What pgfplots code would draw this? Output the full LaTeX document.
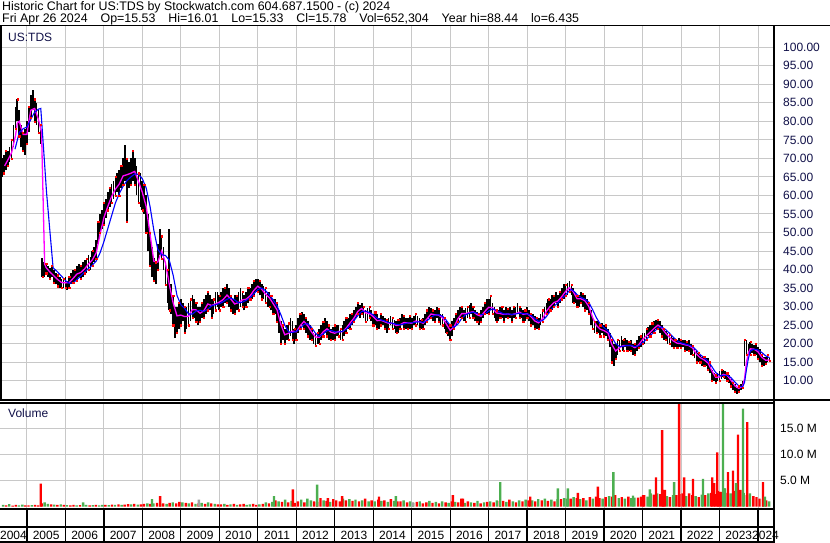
\documentclass[border=0pt]{standalone}
\usepackage{fontspec}
\setmainfont{Liberation Sans}
\usepackage{pgfplots}
\usepackage{pgfplotstable}
\pgfplotsset{compat=1.18}
\definecolor{gridc}{RGB}{200,200,200}
\definecolor{vred}{RGB}{255,0,0}
\definecolor{vgreen}{RGB}{76,175,80}
\definecolor{vgrey}{RGB}{160,160,160}
\definecolor{lblc}{RGB}{16,16,72}
\definecolor{magl}{RGB}{255,0,255}
\definecolor{bluel}{RGB}{0,0,255}
\newcommand{\tf}{\fontsize{12}{14}\selectfont}
\newcommand{\hf}{\fontsize{12.4}{14}\selectfont}
\newcommand{\gap}{\hspace{13pt}}

\pgfplotstableread{
t lo hi
2004.30 63 68
2004.35 65 70
2004.40 66 71
2004.45 67 72
2004.50 68 72
2004.55 69 73
2004.60 70 75
2004.65 73 79
2004.70 78 84
2004.75 80 86
2004.80 76 83
2004.85 73 79
2004.90 72 77
2004.95 71 78
2005.00 74 80
2005.05 77 84
2005.10 81 87
2005.15 83 88.4
2005.20 80 86
2005.25 79 85
2005.30 77 83
2005.35 74 79
2005.40 38 43
2005.45 38 42
2005.50 39 41.5
2005.55 38 41
2005.60 37.5 40.5
2005.65 38 41
2005.70 36.5 40
2005.75 36 39
2005.80 35.5 38.5
2005.85 35 38
2005.90 35 37.5
2005.95 35 37.5
2006.00 35 38
2006.05 34.5 37
2006.10 35 38
2006.15 36 39
2006.20 36.5 40
2006.25 37 40
2006.30 37 41
2006.35 38 41.5
2006.40 37.5 41
2006.45 38 42
2006.50 39 42.5
2006.55 39 43
2006.60 40 44
2006.65 40 43.5
2006.70 41 45
2006.75 42 46
2006.80 43 48
2006.85 47 53
2006.90 50 55
2006.95 51 56
2007.00 52 58
2007.05 54 59
2007.10 56 61
2007.15 57 62
2007.20 58 63
2007.25 59 64
2007.30 60 65
2007.35 61 66
2007.40 60 67
2007.45 62 68
2007.50 63 70
2007.55 64 73.5
2007.60 53 70
2007.65 62 69
2007.70 63 70
2007.75 64 72
2007.80 63 70
2007.85 60 68
2007.90 58 66
2007.95 57 66
2008.00 56 64
2008.05 55 63
2008.10 50 60
2008.15 45 55
2008.20 41 50
2008.25 38 46
2008.30 37 43
2008.35 36 42
2008.40 40 47
2008.45 44 51
2008.50 43 49
2008.55 40 46
2008.60 36 42
2008.65 31 40
2008.70 29 51
2008.75 28 36
2008.80 25 33
2008.85 21.5 30
2008.90 23 30
2008.95 24 31
2009.00 25 32
2009.05 26 31
2009.10 23 30
2009.15 24 30
2009.20 25 31
2009.25 26 32
2009.30 27 33
2009.35 27 32
2009.40 26 31
2009.45 25 30
2009.50 26 30
2009.55 27 31
2009.60 27 32
2009.65 28 33
2009.70 29 34
2009.75 29 33
2009.80 27 32
2009.85 28 32
2009.90 29 34
2009.95 30 34
2010.00 29 33
2010.05 30 34
2010.10 30 35
2010.15 31 35
2010.20 31 36
2010.25 30 35
2010.30 29 33
2010.35 28 32
2010.40 28 33
2010.45 29 33
2010.50 29 34
2010.55 30 35
2010.60 30 34
2010.65 29 33
2010.70 30 34
2010.75 31 35
2010.80 32 35
2010.85 32 36
2010.90 33 37
2010.95 34 37.5
2011.00 34 37.5
2011.05 33 37
2011.10 32 36
2011.15 32 35.5
2011.20 31 35
2011.25 30 34
2011.30 30 34
2011.35 29 33
2011.40 28 32
2011.45 28 32
2011.50 26 31
2011.55 23 29
2011.60 20 26
2011.65 21 25
2011.70 20 24
2011.75 21 25
2011.80 21 25.5
2011.85 22 27
2011.90 21 26
2011.95 20 24
2012.00 21 25
2012.05 23 27
2012.10 24 28
2012.15 25 28.5
2012.20 24 28
2012.25 23 27
2012.30 22 26
2012.35 21 25
2012.40 21 24
2012.45 20 23
2012.50 19.5 23
2012.55 20 23
2012.60 20 24
2012.65 21 25
2012.70 22 26
2012.75 23 27
2012.80 22 26
2012.85 21 25
2012.90 21 24
2012.95 21 24.5
2013.00 21 25
2013.05 22 25
2013.10 22 25
2013.15 21 24
2013.20 21 25
2013.25 22 26
2013.30 23 27
2013.35 24 27
2013.40 24 28
2013.45 25 28
2013.50 26 29
2013.55 27 30
2013.60 28 31
2013.65 27 30.5
2013.70 28 31
2013.75 27 30
2013.80 26 29
2013.85 26 29.5
2013.90 27 30
2013.95 26 29
2014.00 25 28
2014.05 25 28.5
2014.10 24 28
2014.15 24 27
2014.20 25 28
2014.25 25 27.5
2014.30 24 27
2014.35 23 26.5
2014.40 24 27
2014.45 25 27.5
2014.50 24 27
2014.55 24 26.5
2014.60 23 26
2014.65 23 26.5
2014.70 24 27
2014.75 25 28
2014.80 24 27.5
2014.85 24 27
2014.90 24 27
2014.95 24 27.5
2015.00 24 27
2015.05 25 27.5
2015.10 25 28
2015.15 25 27.5
2015.20 24 27
2015.25 24 26.5
2015.30 24 27
2015.35 25 28
2015.40 26 29
2015.45 27 30
2015.50 27 29.5
2015.55 26 29
2015.60 26 29
2015.65 27 30
2015.70 26 29.5
2015.75 25 28
2015.80 25 28
2015.85 24 27
2015.90 23 26
2015.95 22 25.5
2016.00 21 25
2016.05 22 26
2016.10 24 27
2016.15 25 28
2016.20 26 29
2016.25 27 30
2016.30 27 30
2016.35 26 29
2016.40 26 29.5
2016.45 27 30
2016.50 27 30.5
2016.55 28 31
2016.60 27 30
2016.65 26 29
2016.70 26 28.5
2016.75 25 28
2016.80 26 29
2016.85 27 30
2016.90 28 31
2016.95 28 32
2017.00 28 32
2017.05 29 33
2017.10 28 31
2017.15 27 30
2017.20 26 29
2017.25 26 29
2017.30 27 30
2017.35 27 30
2017.40 26 29
2017.45 27 30
2017.50 27 29.5
2017.55 27 30
2017.60 26 29
2017.65 27 30
2017.70 27 30
2017.75 28 31
2017.80 27 30
2017.85 27 29.5
2017.90 26 29
2017.95 26 29
2018.00 27 30
2018.05 26 29
2018.10 25 28
2018.15 25 28
2018.20 24 27.5
2018.25 24 27
2018.30 24 27
2018.35 25 28
2018.40 26 29
2018.45 27 30
2018.50 28 31
2018.55 28 32
2018.60 29 32
2018.65 29 33
2018.70 30 33
2018.75 31 34
2018.80 30 33
2018.85 31 34
2018.90 32 35
2018.95 32 36
2019.00 33 36
2019.05 33 36.5
2019.10 34 37
2019.15 33 36
2019.20 31 35
2019.25 31 34
2019.30 30 33
2019.35 30 33
2019.40 31 34
2019.45 30 33.5
2019.50 29 33
2019.55 29 32
2019.60 28 31
2019.65 25 29
2019.70 24 27
2019.75 23 26
2019.80 23 26
2019.85 23 26
2019.90 22 25
2019.95 23 25.5
2020.00 22 25
2020.05 22 25
2020.10 21 24
2020.15 19 23
2020.20 15 21
2020.25 14 20
2020.30 16 20
2020.35 17 21
2020.40 18 21
2020.45 19 22
2020.50 18 21
2020.55 19 21.5
2020.60 18 21
2020.65 18 20.5
2020.70 18 21
2020.75 17 20
2020.80 17 20
2020.85 18 21
2020.90 19 22
2020.95 19 22
2021.00 20 23
2021.05 20 23
2021.10 21 24
2021.15 22 24.5
2021.20 22 25
2021.25 23 25.5
2021.30 23 26
2021.35 24 26.5
2021.40 24 26.5
2021.45 23 26
2021.50 22 25
2021.55 21 24
2021.60 21 23.5
2021.65 20 23
2021.70 20 22.5
2021.75 19 22
2021.80 19 21.5
2021.85 19 21
2021.90 19 21
2021.95 19 21.5
2022.00 19 21
2022.05 19 21
2022.10 18 21
2022.15 18 20.5
2022.20 18 21
2022.25 17 20
2022.30 17 19.5
2022.35 16 18.5
2022.40 15 18
2022.45 15 17.5
2022.50 15 17
2022.55 14 16.5
2022.60 14 16.5
2022.65 14 16
2022.70 13 16
2022.75 12 15
2022.80 10 13
2022.85 10 12
2022.90 9.5 11.5
2022.95 10 12
2023.00 10 12.5
2023.05 10.5 13
2023.10 11 13
2023.15 10.5 12.5
2023.20 10 12
2023.25 9.5 11.5
2023.30 8.5 10.5
2023.35 7.5 9.5
2023.40 7 9
2023.45 6.4 8
2023.50 7 8.5
2023.55 7.5 9
2023.60 8 10
2023.65 14 21
2023.70 17 21
2023.75 17 20
2023.80 17 20.5
2023.85 17.5 20
2023.90 17 19.5
2023.95 17 20
2024.00 16 19
2024.05 15 18.5
2024.10 14 17
2024.15 14 16.5
2024.20 14.5 16.5
2024.25 15 17
2024.30 15.3 16
}\price

\begin{document}
\begin{tikzpicture}
\useasboundingbox (0pt,0pt) rectangle (830pt,543pt);
\fill[white] (0pt,0pt) rectangle (830pt,543pt);

% ---------------- price panel ----------------
\begin{axis}[
  at={(0pt,143pt)}, anchor=south west, scale only axis,
  width=773pt, height=374.5pt,
  xmin=2004.30, xmax=2024.39, ymin=4.78, ymax=105.89,
  axis line style={draw=none},
  xtick={2005,2006,...,2024}, xticklabels={},
  ytick={10,15,...,100},
  yticklabels={10.00,15.00,20.00,25.00,30.00,35.00,40.00,45.00,50.00,55.00,60.00,65.00,70.00,75.00,80.00,85.00,90.00,95.00,100.00},
  yticklabel pos=right,
  major tick length=0pt,
  grid=major, grid style={draw=gridc, line width=1pt},
  yticklabel style={anchor=west, inner sep=0pt, xshift=10pt, font=\tf, text=lblc},
]
\addplot[draw=none, forget plot, error bars/.cd, y dir=plus, y explicit, error mark=none,
  error bar style={draw=black, line width=1.75pt}]
  table[x=t, y=lo, y error expr=\thisrow{hi}-\thisrow{lo}] {\price};
\addplot[only marks, mark=square*, mark size=0.6pt, color=vred, each nth point=2, forget plot]
  table[x=t, y=lo] {\price};
\addplot[only marks, mark=square*, mark size=0.6pt, color=vred, each nth point=3, forget plot]
  table[x=t, y=hi] {\price};
\addplot[magl, line width=1.3pt] coordinates {
(2004.42,68)(2004.5,69.5)(2004.6,71.5)(2004.7,76)(2004.75,79.5)(2004.8,80)(2004.9,76.5)(2005.0,76.5)(2005.05,80)(2005.1,83)(2005.2,83.5)(2005.3,80.5)(2005.38,77)(2005.46,41.5)(2005.5,40.5)(2005.6,39.3)(2005.7,38.3)(2005.8,37.3)(2005.9,36.5)(2006.0,36.4)(2006.1,36.5)(2006.2,37.6)(2006.3,38.8)(2006.4,39.2)(2006.5,40.2)(2006.6,41.5)(2006.7,42.6)(2006.8,44.5)(2006.9,49.5)(2007.0,54)(2007.1,57)(2007.2,59.7)(2007.3,61.7)(2007.4,63.1)(2007.5,65.3)(2007.6,65.6)(2007.7,66)(2007.8,66.5)(2007.9,63.8)(2008.0,60.8)(2008.1,57)(2008.2,49.5)(2008.3,42.2)(2008.4,42)(2008.5,45)(2008.6,41.8)(2008.7,36)(2008.8,31)(2008.9,27.5)(2009.0,27.7)(2009.1,27.3)(2009.2,27.4)(2009.3,29.2)(2009.4,29.1)(2009.5,28.2)(2009.6,28.9)(2009.7,30.7)(2009.8,30.3)(2009.9,30.7)(2010.0,31.2)(2010.1,31.9)(2010.2,33.1)(2010.3,32)(2010.4,30.7)(2010.5,31.1)(2010.6,31.8)(2010.7,32)(2010.8,32.9)(2010.9,34.4)(2011.0,35.5)(2011.1,34.7)(2011.2,33.4)(2011.3,32.4)(2011.4,30.8)(2011.5,29.1)(2011.6,25.2)(2011.7,22.4)(2011.8,22.8)(2011.9,23.4)(2012.0,23.2)(2012.1,24.8)(2012.2,26)(2012.3,24.8)(2012.4,23.1)(2012.5,21.8)(2012.6,21.7)(2012.7,23.2)(2012.8,24)(2012.9,23.1)(2013.0,22.8)(2013.1,23.3)(2013.2,23.2)(2013.3,24.2)(2013.4,25.6)(2013.5,26.9)(2013.6,28.7)(2013.7,29.5)(2013.8,28.3)(2013.9,28.1)(2014.0,27.3)(2014.1,26.2)(2014.2,26.3)(2014.3,25.9)(2014.4,25.5)(2014.5,25.5)(2014.6,24.9)(2014.7,25.1)(2014.8,25.7)(2014.9,25.6)(2015.0,25.5)(2015.1,26.1)(2015.2,25.9)(2015.3,25.5)(2015.4,26.7)(2015.5,28)(2015.6,27.8)(2015.7,27.7)(2015.8,27)(2015.9,25.3)(2016.0,23.6)(2016.1,24.5)(2016.2,26.7)(2016.3,28.1)(2016.4,28.1)(2016.5,28.4)(2016.6,28.6)(2016.7,27.8)(2016.8,27.4)(2016.9,28.7)(2017.0,29.8)(2017.1,29.7)(2017.2,28.3)(2017.3,28.1)(2017.4,27.9)(2017.5,28)(2017.6,27.8)(2017.7,28.1)(2017.8,28.5)(2017.9,27.9)(2018.0,28.1)(2018.1,27.3)(2018.2,26.1)(2018.3,25.6)(2018.4,26.7)(2018.5,28.7)(2018.6,30.1)(2018.7,31.1)(2018.8,31.5)(2018.9,32.7)(2019.0,34.1)(2019.1,35.1)(2019.2,34)(2019.3,32.1)(2019.4,32.1)(2019.5,31.6)(2019.6,30.1)(2019.7,27.1)(2019.8,24.9)(2019.9,23.9)(2020.0,23.5)(2020.1,22.9)(2020.2,19.8)(2020.3,18)(2020.4,18.9)(2020.5,19.5)(2020.6,19.5)(2020.7,19.5)(2020.8,18.9)(2020.9,19.7)(2021.0,21.1)(2021.1,22.1)(2021.2,23.1)(2021.3,24.1)(2021.4,25)(2021.5,24.2)(2021.6,22.8)(2021.7,21.7)(2021.8,20.7)(2021.9,20.1)(2022.0,20)(2022.1,19.7)(2022.2,19.5)(2022.3,18.8)(2022.4,17.2)(2022.5,16.2)(2022.6,15.6)(2022.7,14.8)(2022.8,12.7)(2022.9,10.9)(2023.0,11)(2023.1,11.7)(2023.2,11.4)(2023.3,10.1)(2023.4,8.6)(2023.5,7.9)(2023.6,8.5)(2023.65,10.5)(2023.7,15)(2023.75,17.5)(2023.8,18.6)(2023.9,18.5)(2024.0,17.8)(2024.1,16.3)(2024.2,15.5)(2024.3,15.6)
};
\addplot[bluel, line width=1.1pt] coordinates {
(2004.69,72.5)(2004.8,77)(2004.9,78)(2005.0,78.5)(2005.1,80.5)(2005.2,82.5)(2005.3,83.3)(2005.36,83.5)(2005.42,74.5)(2005.51,60.8)(2005.6,50)(2005.68,40.5)(2005.8,39.3)(2005.9,38.2)(2006.0,37)(2006.1,36.3)(2006.2,36.4)(2006.3,37.3)(2006.4,38.3)(2006.5,39.3)(2006.6,40.3)(2006.7,41.2)(2006.8,42.3)(2006.9,44.5)(2007.0,47.5)(2007.1,51)(2007.2,54.5)(2007.3,58)(2007.4,60.5)(2007.5,62.5)(2007.6,64)(2007.7,65)(2007.8,65.8)(2007.9,65.7)(2008.0,64.5)(2008.1,62)(2008.2,57)(2008.3,50.5)(2008.4,45.5)(2008.5,44)(2008.6,43.8)(2008.7,42.5)(2008.8,38.5)(2008.9,33)(2009.0,30.5)(2009.1,29.5)(2009.2,28)(2009.3,28)(2009.4,28.8)(2009.5,29)(2009.6,28.7)(2009.7,29.3)(2009.8,30.2)(2009.9,30.5)(2010.0,30.8)(2010.1,31.3)(2010.2,32)(2010.3,32.3)(2010.4,31.8)(2010.5,31)(2010.6,31.2)(2010.7,31.7)(2010.8,32.4)(2010.9,33.5)(2011.0,34.6)(2011.1,35)(2011.2,34.3)(2011.3,33.2)(2011.4,31.8)(2011.5,30.2)(2011.6,27.8)(2011.7,25)(2011.8,23.2)(2011.9,23)(2012.0,23.3)(2012.1,24)(2012.2,25.2)(2012.3,25.4)(2012.4,24.3)(2012.5,22.8)(2012.6,22)(2012.7,22.6)(2012.8,23.5)(2012.9,23.6)(2013.0,23.2)(2013.1,23.1)(2013.2,23.3)(2013.3,23.9)(2013.4,24.9)(2013.5,26.2)(2013.6,27.6)(2013.7,28.7)(2013.8,28.8)(2013.9,28.4)(2014.0,27.8)(2014.1,26.9)(2014.2,26.4)(2014.3,26.1)(2014.4,25.7)(2014.5,25.5)(2014.6,25.2)(2014.7,25.1)(2014.8,25.3)(2014.9,25.6)(2015.0,25.6)(2015.1,25.8)(2015.2,25.9)(2015.3,25.7)(2015.4,26.2)(2015.5,27.1)(2015.6,27.7)(2015.7,27.8)(2015.8,27.4)(2015.9,26.3)(2016.0,24.9)(2016.1,24.4)(2016.2,25.3)(2016.3,26.8)(2016.4,27.8)(2016.5,28.2)(2016.6,28.5)(2016.7,28.2)(2016.8,27.8)(2016.9,28)(2017.0,28.8)(2017.1,29.4)(2017.2,29)(2017.3,28.5)(2017.4,28)(2017.5,28)(2017.6,27.9)(2017.7,28)(2017.8,28.2)(2017.9,28.1)(2018.0,28)(2018.1,27.6)(2018.2,26.8)(2018.3,26)(2018.4,26.2)(2018.5,27.3)(2018.6,28.8)(2018.7,30.1)(2018.8,31)(2018.9,32)(2019.0,33.2)(2019.1,34.3)(2019.15,34.6)(2019.2,34.3)(2019.3,33.2)(2019.4,32.5)(2019.5,32)(2019.6,31.2)(2019.7,29.2)(2019.8,27)(2019.9,25.3)(2020.0,24.3)(2020.1,23.5)(2020.2,21.8)(2020.3,20)(2020.4,19.2)(2020.5,19.3)(2020.6,19.5)(2020.7,19.5)(2020.8,19.2)(2020.9,19.4)(2021.0,20.2)(2021.1,21.2)(2021.2,22.2)(2021.3,23.2)(2021.4,24.2)(2021.5,24.5)(2021.6,23.8)(2021.7,22.8)(2021.8,21.7)(2021.9,20.8)(2022.0,20.2)(2022.1,19.9)(2022.2,19.6)(2022.3,19.2)(2022.4,18.2)(2022.5,17)(2022.6,16.2)(2022.7,15.3)(2022.8,13.8)(2022.9,12.2)(2023.0,11.4)(2023.1,11.4)(2023.2,11.5)(2023.3,10.8)(2023.4,9.6)(2023.5,8.6)(2023.6,8.3)(2023.65,9.5)(2023.7,13)(2023.75,16)(2023.8,18)(2023.9,18.5)(2024.0,18.3)(2024.1,17.6)(2024.2,16.7)(2024.3,16.2)
};
\end{axis}

% ---------------- volume panel ----------------
\begin{axis}[
  at={(0pt,34pt)}, anchor=south west, scale only axis,
  width=773pt, height=106pt,
  xmin=2004.30, xmax=2024.39, ymin=-0.48, ymax=19.9,
  axis line style={draw=none},
  xtick={2005,2006,...,2024}, xticklabels={},
  ytick={5,10,15}, yticklabels={5.0 M,10.0 M,15.0 M},
  yticklabel pos=right,
  major tick length=0pt,
  grid=major, grid style={draw=gridc, line width=1pt},
  yticklabel style={anchor=west, inner sep=0pt, xshift=7pt, font=\tf, text=black},
  clip mode=individual,
]
\addplot[ybar, bar width=2.4pt, bar shift=0pt, fill=vred, draw=none] coordinates {
(2004.46,0.2)(2004.63,0.15)(2004.71,0.3)(2004.96,0.2)
(2005.04,0.2)(2005.21,0.3)(2005.29,0.2)(2005.38,0.6)(2005.63,0.4)(2005.79,0.3)(2005.96,0.3)
(2006.13,0.2)(2006.21,0.3)(2006.38,0.25)(2006.63,0.2)(2006.79,0.3)
(2007.04,0.3)(2007.21,0.35)(2007.38,0.4)(2007.54,0.35)(2007.63,0.45)(2007.79,0.5)(2007.96,0.4)
(2008.04,0.5)(2008.21,0.5)(2008.38,0.7)(2008.54,0.6)(2008.71,0.7)(2008.88,0.6)(2008.96,0.9)
(2009.13,0.7)(2009.29,0.8)(2009.46,0.6)(2009.63,0.5)(2009.79,0.6)(2009.96,0.4)
(2010.04,0.4)(2010.21,0.3)(2010.38,0.5)(2010.54,0.4)(2010.63,0.5)(2010.88,0.5)(2010.96,0.3)
(2011.13,0.5)(2011.29,0.6)(2011.46,1.2)(2011.63,0.9)(2011.79,0.8)(2011.96,0.7)
(2012.04,1.0)(2012.21,0.8)(2012.46,1.0)(2012.54,0.9)(2012.63,1.6)(2012.79,1.1)(2012.96,1.4)
(2013.04,1.2)(2013.13,1.0)(2013.29,1.2)(2013.46,1.1)(2013.63,1.0)(2013.79,1.5)(2013.96,1.2)
(2014.13,1.3)(2014.29,1.2)(2014.46,1.4)(2014.63,1.0)(2014.71,1.0)(2014.88,0.8)
(2015.13,0.9)(2015.29,0.6)(2015.38,0.8)(2015.54,0.7)(2015.71,0.6)(2015.88,0.8)
(2016.04,1.0)(2016.21,0.8)(2016.29,1.5)(2016.46,1.0)(2016.63,0.7)(2016.79,0.6)(2016.96,0.9)
(2017.13,0.8)(2017.29,1.1)(2017.38,1.1)(2017.54,1.3)(2017.71,0.8)(2017.88,1.0)
(2018.04,1.2)(2018.21,1.0)(2018.38,1.2)(2018.54,1.1)(2018.71,1.0)(2018.88,1.4)
(2019.13,1.5)(2019.29,1.6)(2019.46,1.6)(2019.63,1.8)(2019.79,1.9)(2019.88,1.6)
(2020.04,1.8)(2020.21,1.9)(2020.29,2.2)(2020.46,1.8)(2020.63,1.9)(2020.88,1.7)(2020.96,1.9)
(2021.04,2.2)(2021.29,2.3)(2021.46,2.4)(2021.54,2.0)(2021.71,1.8)(2021.88,2.2)(2021.96,2.4)
(2022.04,2.5)(2022.21,2.5)(2022.29,2.2)(2022.46,1.8)(2022.63,2.2)(2022.79,2.6)(2022.88,2.4)(2022.96,3.0)
(2023.04,2.8)(2023.21,2.6)(2023.38,3.0)(2023.54,3.2)(2023.71,2.2)(2023.88,2.0)(2023.96,1.8)
(2024.04,1.5)(2024.21,1.2)
};
\addplot[ybar, bar width=2.4pt, bar shift=0pt, fill=vgreen, draw=none] coordinates {
(2004.38,0.3)(2004.54,0.45)(2004.79,0.2)(2004.88,0.35)
(2005.13,0.25)(2005.46,0.8)(2005.54,0.5)(2005.71,0.35)(2005.88,0.4)
(2006.04,0.25)(2006.29,0.2)(2006.46,0.8)(2006.54,0.3)(2006.71,0.25)(2006.88,0.2)(2006.96,0.3)
(2007.13,0.25)(2007.29,0.3)(2007.46,0.3)(2007.71,0.4)(2007.88,0.35)
(2008.13,0.6)(2008.29,0.6)(2008.46,0.5)(2008.63,0.5)(2008.79,0.8)
(2009.04,0.8)(2009.21,0.6)(2009.38,0.5)(2009.54,0.7)(2009.71,0.8)(2009.88,0.5)
(2010.13,0.5)(2010.29,0.4)(2010.46,0.3)(2010.71,0.3)(2010.79,0.4)
(2011.04,0.4)(2011.21,0.8)(2011.38,0.9)(2011.54,1.0)(2011.71,1.3)(2011.88,1.1)
(2012.13,1.3)(2012.29,1.5)(2012.38,1.2)(2012.71,1.2)(2012.88,0.9)
(2013.21,1.5)(2013.38,1.4)(2013.54,1.3)(2013.71,1.2)(2013.88,1.0)
(2014.04,1.0)(2014.21,1.1)(2014.38,0.9)(2014.54,1.1)(2014.79,1.2)(2014.96,1.0)
(2015.04,0.7)(2015.21,1.0)(2015.46,1.1)(2015.63,0.9)(2015.79,1.0)(2015.96,0.7)
(2016.13,0.9)(2016.38,0.7)(2016.54,0.8)(2016.71,1.1)(2016.88,0.8)
(2017.04,1.0)(2017.21,1.2)(2017.46,0.9)(2017.63,1.0)(2017.79,1.2)(2017.96,1.3)
(2018.13,1.2)(2018.29,1.4)(2018.46,1.5)(2018.63,1.3)(2018.79,1.4)(2018.96,1.6)
(2019.04,1.5)(2019.21,1.8)(2019.38,1.4)(2019.54,1.2)(2019.71,1.5)(2019.96,1.5)
(2020.13,2.0)(2020.38,1.6)(2020.54,1.5)(2020.71,1.6)(2020.79,1.7)
(2021.13,1.9)(2021.21,2.5)(2021.38,2.5)(2021.63,2.0)(2021.79,2.2)
(2022.13,2.0)(2022.38,2.0)(2022.54,2.3)(2022.71,2.5)
(2023.13,3.5)(2023.29,2.5)(2023.46,2.8)(2023.63,2.6)(2023.79,2.5)
(2024.13,1.4)(2024.29,1.0)
};
\addplot[ybar, bar width=2.4pt, bar shift=0pt, fill=vred, draw=none] coordinates {
(2005.36,4.4)(2008.46,2.0)(2011.91,3.3)(2012.82,1.6)(2013.19,2.0)(2014.15,1.9)(2016.07,2.2)(2016.33,1.5)(2018.08,1.9)(2019.32,2.6)(2019.84,3.8)(2021.01,2.2)(2021.35,5.6)(2021.51,14.7)(2021.58,3.2)(2021.95,25)(2022.08,5.6)(2022.31,5.3)(2022.81,5.6)(2022.86,4.5)(2022.94,10.4)(2023.01,2.8)(2023.22,6.6)(2023.35,6.9)(2023.48,13.8)(2023.72,16.2)(2024.13,4.7)
};
\addplot[ybar, bar width=2.4pt, bar shift=0pt, fill=vgreen, draw=none] coordinates {
(2008.25,1.4)(2011.42,2.0)(2012.54,4.2)(2014.59,2.0)(2017.30,4.7)(2018.80,3.5)(2019.06,3.5)(2020.24,6.6)(2020.75,2.1)(2021.19,3.3)(2021.82,4.7)(2022.57,5.3)(2023.09,25)(2023.14,3.5)(2023.43,4.5)(2023.61,18.8)(2024.18,1.9)
};
\addplot[ybar, bar width=2.4pt, bar shift=0pt, fill=vgrey, draw=none] coordinates {
(2009.47,1.3)(2015.03,0.8)
};
\pgfplotsinvokeforeach{2005,...,2024}{\draw[line width=1.3pt] (axis cs:#1,-0.48) -- ++(0pt,-33pt);}
\pgfplotsinvokeforeach{2005,...,2023}{\node[font=\tf, yshift=-26pt] at (axis cs:#1.5,-0.48) {#1};}
\node[font=\tf, yshift=-26pt] at (axis cs:2004.65,-0.48) {2004};
\node[font=\tf, yshift=-26pt] at (axis cs:2024.195,-0.48) {2024};
\end{axis}

% ---------------- frame ----------------
\draw[line width=1.6pt] (0pt,517.5pt) -- (830pt,517.5pt);
\draw[line width=1.6pt] (0pt,143pt) -- (830pt,143pt);
\draw[line width=1.2pt] (0pt,140pt) -- (773pt,140pt);
\draw[line width=1.6pt] (0pt,34pt) -- (773pt,34pt);
\draw[line width=1.6pt] (0pt,16pt) -- (773pt,16pt);
\draw[line width=1.6pt] (0pt,1pt) -- (773pt,1pt);
\draw[line width=2.4pt] (1pt,517.5pt) -- (1pt,143pt);
\draw[line width=2.6pt] (774pt,517.5pt) -- (774pt,0pt);

% ---------------- texts ----------------
\node[anchor=base west, inner sep=0pt, font=\hf] at (2pt,532pt)
  {Historic Chart for US:TDS by Stockwatch.com 604.687.1500 - (c) 2024};
\node[anchor=base west, inner sep=0pt, font=\hf] at (2pt,520pt)
  {Fri Apr 26 2024\gap Op=15.53\gap Hi=16.01\gap Lo=15.33\gap Cl=15.78\gap Vol=652,304\gap Year hi=88.44\gap lo=6.435};
\node[anchor=west, inner sep=0pt, font=\tf, text=lblc] at (8pt,506pt) {US:TDS};
\node[anchor=west, inner sep=0pt, font=\tf, text=lblc] at (8pt,130pt) {Volume};
\end{tikzpicture}
\end{document}
